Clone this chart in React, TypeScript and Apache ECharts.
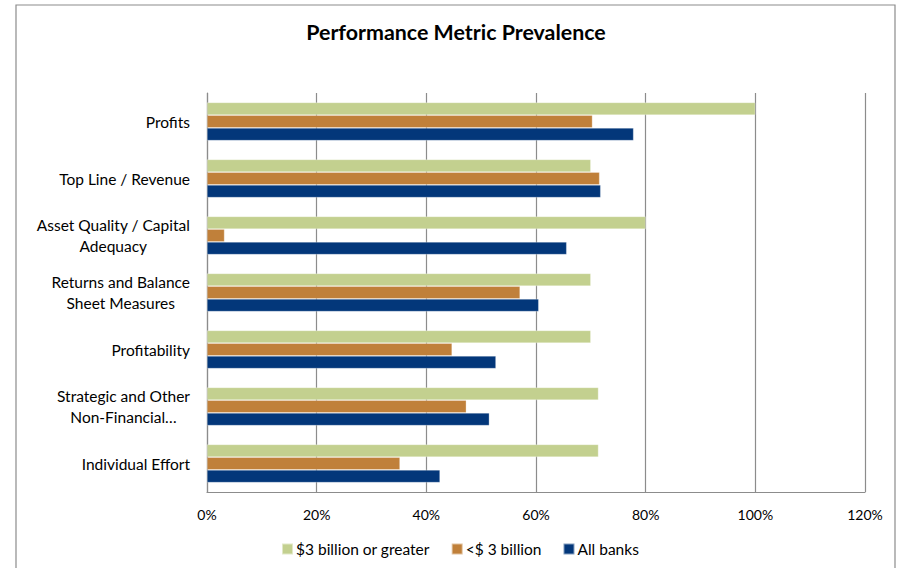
import React, { useEffect, useRef } from "react";
import * as echarts from "echarts";

// Metric categories, top to bottom
const categories = [
  "Profits",
  "Top Line / Revenue",
  "Asset Quality / Capital\nAdequacy",
  "Returns and Balance\nSheet Measures",
  "Profitability",
  "Strategic and Other\nNon-Financial…",
  "Individual Effort",
];

const seriesNames = ["$3 billion or greater", "<$ 3 billion", "All banks"];

// Share of banks using each metric (%)
const largeBanks = [100, 70, 80, 70, 70, 71.4, 71.4];
const smallBanks = [70.3, 71.6, 3.2, 57.1, 44.7, 47.3, 35.2];
const allBanks = [77.8, 71.8, 65.6, 60.5, 52.7, 51.5, 42.5];

const xTicks = [0, 20, 40, 60, 80, 100, 120];

const colors = ["#C3D08F", "#C0803A", "#03377A"];
const FONT = "Lato, 'Noto Sans', sans-serif";

export default function App() {
  const ref = useRef<HTMLDivElement>(null);

  useEffect(() => {
    if (!ref.current) return;
    const chart = echarts.init(ref.current, undefined, { renderer: "svg" });
    const values = [largeBanks, smallBanks, allBanks];

    chart.setOption({
      animation: false,
      backgroundColor: "#ffffff",
      textStyle: { fontFamily: FONT },
      title: {
        text: "Performance Metric Prevalence",
        left: 451,
        top: 16,
        textAlign: "center",
        textStyle: {
          fontFamily: FONT,
          fontSize: 21.4,
          fontWeight: "bold",
          color: "#000000",
        },
      },
      graphic: [
        {
          type: "rect",
          shape: { x: 16, y: 5, width: 879, height: 580 },
          style: { fill: "none", stroke: "#8c8c8c", lineWidth: 1.2 },
          silent: true,
          z: -1,
        },
      ],
      legend: {
        left: 276,
        top: 536,
        itemWidth: 11,
        itemHeight: 11,
        itemGap: 21,
        icon: "rect",
        textStyle: {
          fontFamily: FONT,
          fontSize: 15.5,
          color: "#000000",
          padding: [0, 0, 0, -2],
        },
        data: seriesNames,
      },
      grid: { left: 207, right: 33, top: 93, bottom: 76, containLabel: false },
      xAxis: {
        type: "value",
        min: xTicks[0],
        max: xTicks[xTicks.length - 1],
        interval: 20,
        axisLine: { show: true, lineStyle: { color: "#8c8c8c", width: 1.2 } },
        axisTick: { show: false },
        splitLine: { show: true, lineStyle: { color: "#8c8c8c", width: 1.2 } },
        axisLabel: {
          formatter: (v: number) => `${v}%`,
          fontFamily: FONT,
          fontSize: 14,
          color: "#000000",
          margin: 15,
        },
      },
      yAxis: {
        type: "category",
        data: categories,
        inverse: true,
        axisLine: { show: true, lineStyle: { color: "#8c8c8c", width: 1.2 } },
        axisTick: { show: false },
        axisLabel: {
          fontFamily: FONT,
          fontSize: 15.5,
          color: "#000000",
          margin: 17,
          lineHeight: 21,
          formatter: (v: string) =>
            v.includes("\n")
              ? v
                  .split("\n")
                  .map((l) => `{c|${l}}`)
                  .join("\n")
              : v,
          rich: {
            c: {
              align: "center",
              fontFamily: FONT,
              fontSize: 15.5,
              lineHeight: 21,
              color: "#000000",
            },
          },
        },
      },
      series: seriesNames.map((name, i) => ({
        name,
        type: "bar",
        data: values[i],
        barGap: "0%",
        barCategoryGap: "33%",
        itemStyle: {
          color: colors[i],
          borderColor: "rgba(255,255,255,0.5)",
          borderWidth: 0.6,
        },
      })),
    });

    return () => chart.dispose();
  }, []);

  return (
    <div
      ref={ref}
      style={{ position: "fixed", left: 0, top: 0, width: 898, height: 568 }}
    />
  );
}
